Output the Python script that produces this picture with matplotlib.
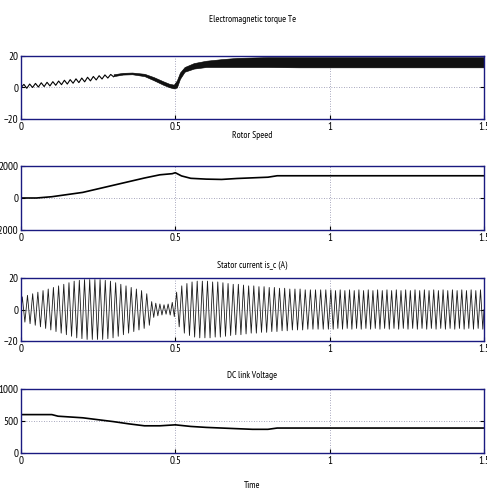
import numpy as np
import matplotlib
matplotlib.use("Agg")
import matplotlib.pyplot as plt

plt.rcParams['font.family'] = ['PT Sans Narrow', 'DejaVu Sans']
plt.rcParams['font.stretch'] = 'condensed'

# ---- data ----
# electromagnetic torque: early ripple (alternating extremes, 0 .. 0.3 s)
te_early = [0, 2, -0.5, 2.2, 0, 2.6, 0.3, 3, 0.6, 3.3, 1, 3.7, 1.4, 4.1, 1.8, 4.6,
            2.2, 5, 2.7, 5.5, 3.1, 6, 3.6, 6.5, 4.2, 7, 4.8, 7.5, 5.4, 8, 6, 8.3, 6.8]
te_band_t = [0.30, 0.33, 0.36, 0.40, 0.43, 0.46, 0.48, 0.495, 0.505, 0.515, 0.53,
             0.56, 0.60, 0.65, 0.70, 0.80, 0.90, 1.00, 1.10, 1.20, 1.30, 1.40, 1.50]
te_band_hi = [8.4, 9.3, 9.5, 8.7, 6.6, 4.0, 2.4, 1.8, 4.5, 9.5, 13.0, 15.5, 17.0,
              18.0, 18.8, 19.3, 19.3, 19.3, 19.3, 19.3, 19.3, 19.3, 19.3]
te_band_lo = [7.2, 8.2, 8.4, 7.2, 4.6, 1.8, 0.2, -0.6, 0.0, 5.5, 10.0, 12.0, 13.0,
              13.0, 13.0, 13.0, 12.8, 12.8, 12.8, 12.8, 12.8, 12.8, 12.8]

# rotor speed
ws_t = [0, 0.05, 0.1, 0.2, 0.3, 0.4, 0.45, 0.49, 0.5, 0.52, 0.55, 0.6, 0.65,
        0.7, 0.8, 0.83, 1.0, 1.5]
ws_v = [0, 0, 80, 350, 800, 1250, 1450, 1520, 1580, 1380, 1230, 1180, 1160,
        1220, 1300, 1390, 1390, 1390]

# stator current: segments (start, end) and peak amplitude per cycle
is_seg = [(0.0, 0.42), (0.42, 0.5), (0.5, 1.0), (1.0, 1.5)]
is_amp = [
    [8, 9, 10, 11, 12, 13, 14, 15, 16, 17, 18, 18.5, 19, 19, 19, 19, 18.5, 18, 17,
     16, 15, 14, 13, 12, 10],
    [5, 4, 3.5, 3, 3.5, 4.5],
    [11, 15, 16.5, 17.5, 18, 18, 18, 17.5, 17.5, 17, 16.5, 16, 16, 15.5, 15, 15,
     14.5, 14.5, 14, 14, 13.5, 13.5, 13, 13, 13, 12.5, 12.5, 12.5, 12.5, 12.5],
    [12.5, 12, 12.5, 12, 12.5, 12, 12.5, 12, 12.5, 12, 12.5, 12, 12.5, 12, 12.5,
     12, 12.5, 12, 12.5, 12, 12.5, 12, 12.5, 12, 12.5, 12, 12.5, 12, 12.5, 12,
     12.5, 12, 12.5],
]

# DC link voltage
vdc_t = [0, 0.1, 0.12, 0.2, 0.3, 0.35, 0.4, 0.45, 0.5, 0.52, 0.55, 0.6, 0.7,
         0.75, 0.8, 0.83, 1.0, 1.5]
vdc_v = [600, 600, 575, 550, 490, 455, 425, 425, 440, 430, 415, 400, 380,
         370, 370, 390, 390, 390]

titles = ["Electromagnetic torque Te", "Rotor Speed", "Stator current is_c (A)",
          "DC link Voltage"]
ylims = [(-20, 20), (-2000, 2000), (-20, 20), (0, 1000)]
yticks = [[-20, 0, 20], [-2000, 0, 2000], [-20, 0, 20], [0, 500, 1000]]
xticks = [0, 0.5, 1, 1.5]
xticklabels = ["0", "0.5", "1", "1.5"]

# ---- figure ----
W, H = 487, 494
fig = plt.figure(figsize=(W / 100, H / 100), dpi=100)
boxes = [(56, 119), (166, 230), (278, 341), (389, 453)]
title_y = [20, 136, 265, 376]
axes = []
for (top, bot) in boxes:
    ax = fig.add_axes([21 / W, 1 - bot / H, 463 / W, (bot - top) / H])
    axes.append(ax)

spine_col = "#1a1a80"
grid_col = "#8a8aa8"

for i, ax in enumerate(axes):
    ax.set_xlim(0, 1.5)
    ax.set_ylim(*ylims[i])
    ax.set_xticks(xticks)
    ax.set_xticklabels(xticklabels)
    ax.set_yticks(yticks[i])
    ax.tick_params(direction="in", length=3, width=0.8, color="black",
                   labelsize=8, pad=2, right=True)
    for s in ax.spines.values():
        s.set_color(spine_col)
        s.set_linewidth(1.0)
    # scope-style dotted grid: x at interior ticks, y at midline
    for xv in [0.5, 1.0]:
        ax.axvline(xv, color=grid_col, ls=(0, (1, 2)), lw=0.6, zorder=0)
    ax.axhline(sum(ylims[i]) / 2, color=grid_col, ls=(0, (1, 2)), lw=0.6, zorder=0)
    fig.text(252.5 / W, 1 - title_y[i] / H, titles[i], ha="center", va="center",
             fontsize=6.8)

# torque
ax = axes[0]
t_early = np.linspace(0, 0.3, len(te_early))
ax.plot(t_early, te_early, color="black", lw=0.8)
ax.fill_between(te_band_t, te_band_lo, te_band_hi, color="#111111", lw=0.4,
                edgecolor="black")

# rotor speed
axes[1].plot(ws_t, ws_v, color="black", lw=1.2)

# stator current: alternating extremes through each segment
ts, vs = [0.0], [0.0]
for (a, b), amps in zip(is_seg, is_amp):
    per = (b - a) / len(amps)
    for k, amp in enumerate(amps):
        ts += [a + (k + 0.25) * per, a + (k + 0.75) * per]
        vs += [amp, -amp]
ts.append(1.5)
vs.append(0.0)
axes[2].plot(ts, vs, color="#1a1a1a", lw=0.6)

# DC link voltage
axes[3].plot(vdc_t, vdc_v, color="black", lw=1.2)

fig.text(252.5 / W, 1 - 485 / H, "Time", ha="center", va="center", fontsize=6.8)

fig.savefig("out.png", dpi=100)
